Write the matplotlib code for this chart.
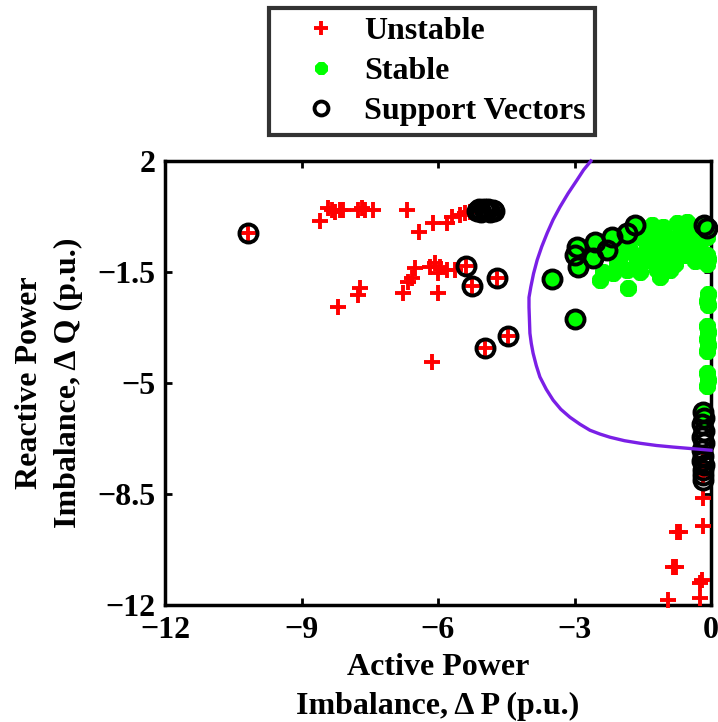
import matplotlib
matplotlib.use('Agg')
import matplotlib.pyplot as plt
from matplotlib.lines import Line2D

# ---------------- data ----------------
unstable_x = [-10.18, -8.59, -8.42, -8.33, -8.26, -8.15, -8.09, -7.76, -7.67, -7.60, -7.43,
              -6.68, -6.42, -6.11, -5.80, -5.69, -5.52, -5.41, -5.30,
              -6.51, -6.57, -6.66, -6.77, -6.18, -6.07, -5.96, -6.00, -5.80, -5.63, -6.00,
              -6.13, -7.71, -7.76, -8.20,
              -5.38, -5.25, -4.70, -4.46, -4.97,
              -0.18, -0.18, -0.18, -0.18, -0.75, -0.68, -0.83, -0.78, -0.20, -0.24, -0.24, -0.95]
unstable_y = [-0.27, 0.11, 0.52, 0.45, 0.39, 0.45, 0.45, 0.45, 0.52, 0.45, 0.45,
              0.45, -0.24, 0.04, 0.04, 0.23, 0.30, 0.36, 0.40,
              -1.38, -1.69, -1.82, -2.16, -1.34, -1.22, -1.34, -1.53, -1.44, -1.44, -2.16,
              -4.34, -2.00, -2.23, -2.61,
              -1.31, -1.94, -1.69, -3.52, -3.90,
              -7.37, -7.90, -8.63, -9.51, -9.70, -9.70, -10.80, -10.80, -11.22, -11.30, -11.79, -11.85]

stable_x = [-1.30, -1.05, -0.75, -0.53, -0.31, -0.09, -0.68, -0.97, -1.27, -1.56, -1.56,
            -1.41, -1.12, -0.84, -0.53, -0.40, -1.78, -2.00, -1.63, -1.34, -1.05, -0.75,
            -1.85, -1.56, -1.19, -0.90, -2.15, -2.44, -1.12, -1.82, -2.07, -2.37,
            -0.20, -0.45, -0.25, -0.60, -1.90, -2.20, -1.00, -0.80, -1.45, -0.35,
            -3.49, -2.99, -2.95, -2.99, -2.92, -2.55, -2.59, -2.29, -2.18, -1.85, -1.67,
            -0.15, -0.08,
            -0.08, -0.06, -0.08, -0.06, -0.08, -0.06, -0.08, -0.06, -0.09, -0.06, -0.08,
            -0.08, -0.06, -0.08, -0.18, -0.18]
stable_y = [-0.02, -0.08, 0.04, 0.08, -0.08, -0.40, -0.27, -0.40, -0.40, -0.40, -0.08,
            -0.71, -0.71, -0.71, -0.59, -0.81, -0.81, -1.03, -1.12, -1.12, -1.06, -1.03,
            -1.44, -1.50, -1.44, -1.44, -1.53, -1.75, -1.66, -2.00, -1.22, -1.50,
            -0.25, -0.30, -0.60, -0.95, -0.60, -0.55, -1.30, -1.25, -0.95, -1.15,
            -1.72, -2.98, -0.71, -0.97, -1.34, -0.55, -1.06, -0.81, -0.40, -0.27, -0.02,
            -0.02, -0.10,
            -0.95, -1.10, -1.25, -2.20, -2.40, -2.55, -3.20, -3.40, -3.60, -3.80, -4.00,
            -4.70, -4.90, -5.10, -5.90, -6.15]

sv_x = [-10.18,
        -5.15, -5.10, -5.05, -5.00, -4.95, -4.90, -4.85, -4.80, -4.76,
        -5.38, -5.25, -4.70, -4.46, -4.97,
        -3.49, -2.99, -2.95, -2.99, -2.92, -2.55, -2.59, -2.29, -2.18, -1.85, -1.67,
        -0.15, -0.08,
        -0.18, -0.16, -0.20, -0.16, -0.19, -0.16, -0.20, -0.17, -0.19, -0.16, -0.18, -0.17, -0.18]
sv_y = [-0.27,
        0.42, 0.50, 0.40, 0.48, 0.44, 0.50, 0.40, 0.47, 0.43,
        -1.31, -1.94, -1.69, -3.52, -3.90,
        -1.72, -2.98, -0.71, -0.97, -1.34, -0.55, -1.06, -0.81, -0.40, -0.27, -0.02,
        -0.02, -0.10,
        -5.90, -6.10, -6.30, -6.50, -6.70, -6.90, -7.10, -7.30, -7.45, -7.60, -7.75, -7.90, -8.05]

boundary_x = [-2.64, -2.80, -2.945, -3.14, -3.32, -3.47, -3.60, -3.72, -3.82, -3.90, -3.96,
              -4.00, -4.00, -3.98, -3.95, -3.91, -3.84, -3.76, -3.62, -3.47, -3.30, -3.10,
              -2.88, -2.66, -2.44, -2.22, -1.90, -1.56, -1.20, -0.835, -0.42, 0.0]
boundary_y = [2.00, 1.72, 1.40, 0.98, 0.55, 0.15, -0.27, -0.70, -1.12, -1.55, -1.97,
              -2.30, -2.61, -3.43, -3.75, -4.06, -4.45, -4.81, -5.20, -5.54, -5.83, -6.08,
              -6.30, -6.49, -6.61, -6.71, -6.82, -6.90, -6.97, -7.02, -7.07, -7.12]

xticks = [-12, -9, -6, -3, 0]
xtick_labels = ['\u221212', '\u22129', '\u22126', '\u22123', '0']
yticks = [2, -1.5, -5, -8.5, -12]
ytick_labels = ['2', '\u22121.5', '\u22125', '\u22128.5', '\u221212']

# ---------------- style ----------------
plt.rcParams['font.family'] = ['Liberation Serif', 'DejaVu Serif']
plt.rcParams['font.weight'] = 'bold'

FS = 23
red = '#ff0000'
green = '#00ff00'
purple = '#7a1fe6'

fig = plt.figure(figsize=(7.18, 7.22), dpi=100)
ax = fig.add_axes([165 / 718, 117 / 722, 546 / 718, 444 / 722])

ax.plot(unstable_x, unstable_y, linestyle='none', marker='+', color=red,
        markersize=11, markeredgewidth=2.8, clip_on=False, zorder=3)
ax.plot(stable_x, stable_y, linestyle='none', marker=(8, 2, 0), color=green,
        markersize=12, markeredgewidth=4.2, clip_on=False, zorder=4)
ax.plot(sv_x, sv_y, linestyle='none', marker='o', markerfacecolor='none',
        markeredgecolor='black', markersize=13, markeredgewidth=2.8, clip_on=False, zorder=5)
ax.plot(boundary_x, boundary_y, color=purple, linewidth=2.4, zorder=6, clip_on=False)

ax.set_xlim(-12, 0)
ax.set_ylim(-12, 2)
ax.set_xticks(xticks)
ax.set_xticklabels(xtick_labels, fontsize=FS, fontweight='bold')
ax.set_yticks(yticks)
ax.set_yticklabels(ytick_labels, fontsize=FS, fontweight='bold')
ax.tick_params(direction='in', length=5, width=2, top=True, right=True)
ax.tick_params(axis='x', pad=8)
ax.tick_params(axis='y', pad=7)
for s in ax.spines.values():
    s.set_linewidth(2.5)

ax.set_xlabel('Active Power\nImbalance, \u0394 P (p.u.)', fontsize=FS, fontweight='bold',
              labelpad=6, linespacing=1.45)
ax.set_ylabel('Reactive Power\nImbalance, \u0394 Q (p.u.)', fontsize=FS, fontweight='bold',
              labelpad=10, linespacing=1.45)

handles = [
    Line2D([], [], linestyle='none', marker='+', color=red, markersize=10, markeredgewidth=2.8),
    Line2D([], [], linestyle='none', marker=(8, 2, 0), color=green, markersize=9, markeredgewidth=3.6),
    Line2D([], [], linestyle='none', marker='o', markerfacecolor='none', markeredgecolor='black',
           markersize=10, markeredgewidth=2.8),
]
labels = ['Unstable', 'Stable', 'Support Vectors']
leg = fig.legend(handles, labels, loc='upper center', bbox_to_anchor=(432 / 718, 1 - 8 / 722),
                 prop={'size': FS, 'weight': 'bold'}, frameon=True, fancybox=False,
                 edgecolor='black', labelspacing=0.33, handletextpad=0.0, borderpad=0.28,
                 handlelength=2.7, borderaxespad=0)
leg.get_frame().set_linewidth(3)

fig.savefig('out.png', dpi=100, facecolor='white')
